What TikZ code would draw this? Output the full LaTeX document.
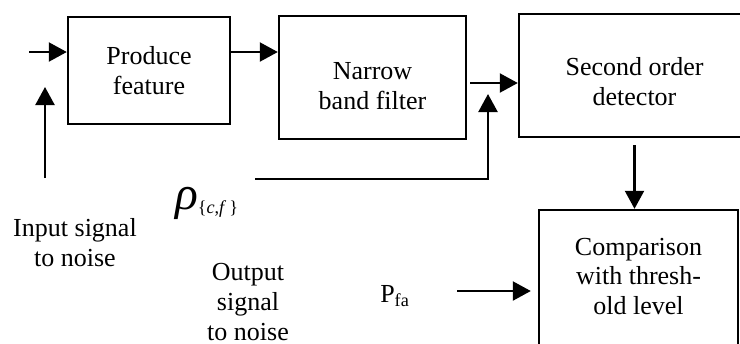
\documentclass[tikz,border=0pt]{standalone}
\usepackage{fontspec}
\setmainfont{Liberation Serif}
\usetikzlibrary{arrows.meta}

\begin{document}
\begin{tikzpicture}[
    x=0.02cm, y=-0.02cm,
    block/.style={rectangle, draw, line width=1.4pt, inner sep=0pt},
    arr/.style={draw, line width=1.3pt, -{Triangle[length=0.36cm, width=0.38cm]}},
    every node/.style={font=\fontsize{14.8}{17}\selectfont},
    align=center
]
\clip (0,0) rectangle (740,343);

% Blocks
\node[block, minimum width=3.24cm, minimum height=2.14cm] (feat) at (149,70.5) {Produce\\feature};
\node[block, minimum width=3.74cm, minimum height=2.46cm,
      label={[yshift=-0.17cm]center:{Narrow\\band filter}}] (filt) at (372.5,77.5) {};
\node[block, minimum width=4.62cm, minimum height=2.46cm,
      label={[yshift=-0.13cm]center:{Second order\\detector}}] (det) at (634.5,75.5) {};
\node[block, minimum width=3.98cm, minimum height=2.8cm,
      label={[yshift=0.07cm]center:{Comparison\\with thresh-\\old level}}] (cmp) at (638.5,280) {};

% Free ends
\coordinate (in) at (29,52);
\coordinate (snr) at (45,178);
\coordinate (snrtip) at (45,87);
\coordinate (mix) at (470,83);
\coordinate (fb) at (255,179);
\coordinate (fbtip) at (488,94);
\coordinate (pfa) at (457,291);

% Connections
\draw[arr] (in) -- (in -| feat.west);
\draw[arr] (snr) -- (snrtip);
\draw[arr] (feat.east |- in) -- (filt.west |- in);
\draw[arr] (mix) -- (mix -| det.west);
\draw[arr] (fb) -| (fbtip);
\draw[arr, shorten <=0.14cm] (det.south) -- (det.south |- cmp.north);
\draw[arr, shorten >=0.14cm] (pfa) -- (pfa -| cmp.west);

% Labels
\node (insnr) at (75,243) {Input signal\\to noise};
\node (rho) at (207,203) {{\fontsize{27}{30}\selectfont\textit{ρ}}\textsubscript{\{\textit{c},\textit{f}\,\}}};
\node (outsnr) at (248,302) {Output\\signal\\to noise};
\node (pfalbl) at (395,296) {P\textsubscript{fa}};

\end{tikzpicture}
\end{document}
